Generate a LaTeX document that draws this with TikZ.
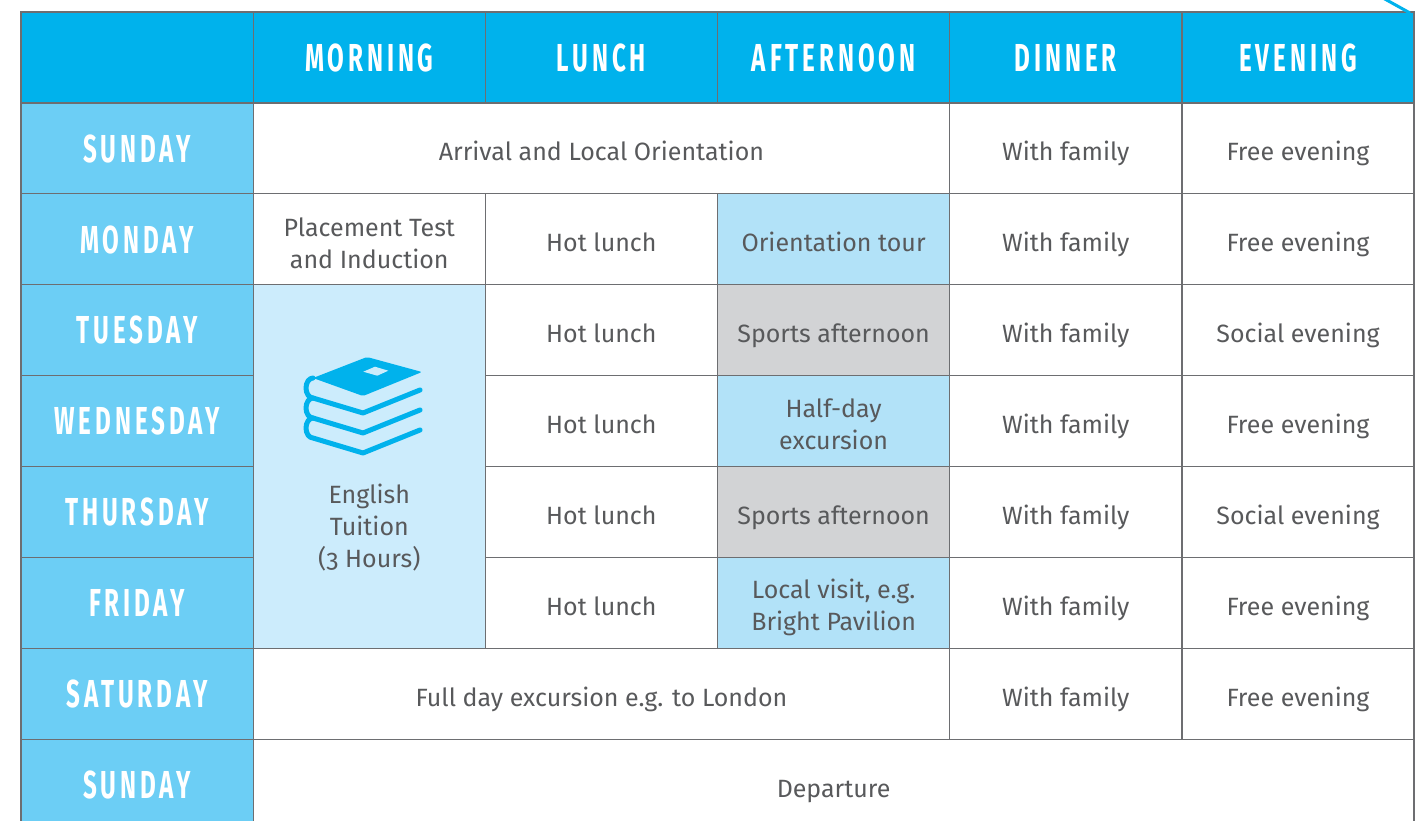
\documentclass[tikz,border=0pt]{standalone}
\usepackage{fontspec}
\setmainfont[Numbers=OldStyle]{Fira Sans}
\newfontfamily\headfont[FakeStretch=0.62,LetterSpace=10]{Fira Sans}
\newcommand\topstrut{\rule{0pt}{26pt}}
\definecolor{headblue}{RGB}{0,178,236}
\definecolor{dayblue}{RGB}{108,206,245}
\definecolor{tripblue}{RGB}{178,226,248}
\definecolor{classblue}{RGB}{204,236,252}
\definecolor{sportgray}{RGB}{210,211,213}
\definecolor{gridgray}{RGB}{109,110,113}
\definecolor{txtgray}{RGB}{88,89,91}
\tikzset{
  cell/.style={draw=gridgray, line width=1.3pt, minimum width=232.17pt, minimum height=90.9pt,
    inner sep=0pt, align=center, text=txtgray, font=\fontsize{25}{32}\selectfont,
    text height=25pt, text depth=0pt},
  twoline/.style={text height=, text depth=},
  head/.style={cell, fill=headblue, text=white, text height=28.5pt, text depth=0pt,
    font=\headfont\bfseries\fontsize{39}{40}\selectfont},
  day/.style={head, fill=dayblue, text height=27.5pt},
  trip/.style={cell, fill=tripblue},
  sport/.style={cell, fill=sportgray},
  book/.style={headblue, line width=5pt, line cap=round, line join=round}
}
\begin{document}
\begin{tikzpicture}[x=1pt,y=-1pt]
	\useasboundingbox (0,0) rectangle (1416,821);
	\clip (0,0) rectangle (1416,821);

	\node[head] (corner) at (137.1,57.45) {};
	\foreach \t [count=\i from 1] in {MORNING,LUNCH,AFTERNOON,DINNER,EVENING}
		\node[head] (h\i) at ({137.1+232.17*\i},57.45) {\t};
	\foreach \d [count=\j from 1] in {SUNDAY,MONDAY,TUESDAY,WEDNESDAY,THURSDAY,FRIDAY,SATURDAY,SUNDAY}
		\node[day] (d\j) at (137.1,{57.45+90.9*\j}) {\d};

	% dinner and evening
	\foreach \e [count=\j from 1] in {Free evening,Free evening,Social evening,Free evening,Social evening,Free evening,Free evening} {
		\node[cell] (din\j) at (1065.8,{57.45+90.9*\j}) {With family};
		\node[cell] (eve\j) at (1298,{57.45+90.9*\j}) {\e};
	}
	\foreach \j in {2,...,6}
		\node[cell] (lun\j) at (601.4,{57.45+90.9*\j}) {Hot lunch};

	\node[cell, minimum width=696.5pt] (arrival) at (601.4,148.35) {Arrival and Local Orientation};
	\node[cell, twoline] (place) at (369.3,239.25) {\topstrut Placement Test\\and Induction};
	\node[trip] (tour) at (833.6,239.25) {Orientation tour};
	\node[sport] (sport3) at (833.6,330.15) {Sports afternoon};
	\node[trip, twoline] (halfday) at (833.6,421.05) {\topstrut Half-day\\excursion};
	\node[sport] (sport5) at (833.6,511.95) {Sports afternoon};
	\node[trip, twoline] (visit) at (833.6,602.85) {\rule{0pt}{28pt}Local visit, e.g.\\Bright Pavilion};
	\node[cell, minimum width=696.5pt] (fullday) at (601.4,693.75) {Full day excursion e.g. to London};
	\node[cell, minimum width=1160.85pt] (depart) at (833.6,784.65) {Departure};

	% english tuition block
	\node[cell, fill=classblue, minimum height=363.6pt] (tuition) at (369.3,466.5) {};
	\node[cell, draw=none, twoline, minimum height=0pt] (tuitxt) at (369.3,528) {English\\Tuition\\(3 Hours)};
	\fill[headblue, rounded corners=2pt] (313,378) -- (367,357) -- (422,372) -- (363,396) -- cycle;
	\fill[classblue] (363.3,371.7) -- (375,366.7) -- (388.3,370.7) -- (377.3,375.7) -- cycle;
	\foreach \k in {0,1,2}
		\draw[book] (313,{378+20*\k}) arc[start angle=270, end angle=90, x radius=7, y radius=10]
			-- (363,{413+20*\k}) -- (420,{390+20*\k});

	\draw[headblue, line width=3pt] (1383,-2) -- (1410,13);
\end{tikzpicture}
\end{document}
